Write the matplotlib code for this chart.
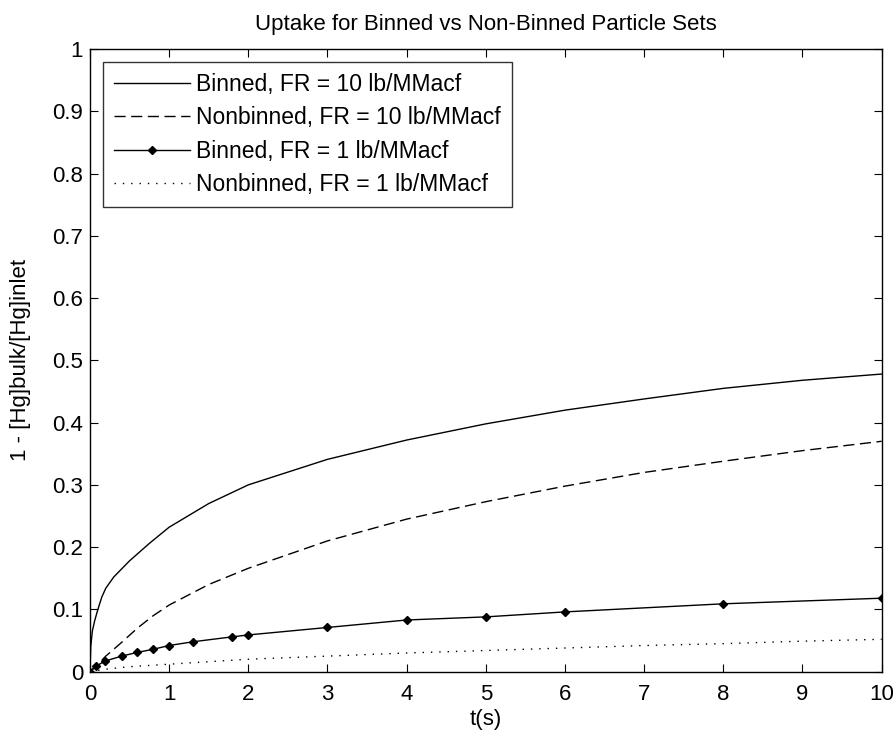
import matplotlib
matplotlib.use("Agg")
import matplotlib.pyplot as plt

plt.rcParams["font.family"] = ["Liberation Sans", "DejaVu Sans"]

# Binned, FR = 10 lb/MMacf
t_b10 = [0, 0.01, 0.03, 0.06, 0.1, 0.15, 0.2, 0.3, 0.4, 0.5, 0.75, 1.0, 1.5, 2.0, 3, 4, 5, 6, 7, 8, 9, 10]
y_b10 = [0, 0.04, 0.065, 0.082, 0.1, 0.12, 0.134, 0.152, 0.165, 0.178, 0.206, 0.232, 0.27, 0.30, 0.341, 0.372, 0.398, 0.42, 0.438, 0.455, 0.468, 0.478]

# Nonbinned, FR = 10 lb/MMacf
t_n10 = [0, 0.1, 0.2, 0.4, 0.6, 0.8, 1.0, 1.5, 2, 3, 4, 5, 6, 7, 8, 9, 10]
y_n10 = [0, 0.012, 0.025, 0.047, 0.07, 0.09, 0.107, 0.14, 0.166, 0.21, 0.245, 0.273, 0.298, 0.32, 0.338, 0.355, 0.37]

# Binned, FR = 1 lb/MMacf
t_b1 = [0, 0.08, 0.19, 0.4, 0.6, 0.8, 1.0, 1.3, 1.8, 2.0, 3, 4, 5, 6, 8, 10]
y_b1 = [0, 0.009, 0.017, 0.025, 0.031, 0.036, 0.042, 0.048, 0.056, 0.059, 0.071, 0.083, 0.088, 0.096, 0.109, 0.118]

# Nonbinned, FR = 1 lb/MMacf
t_n1 = [0, 0.2, 0.5, 1, 2, 3, 4, 5, 6, 7, 8, 9, 10]
y_n1 = [0, 0.004, 0.008, 0.012, 0.02, 0.025, 0.03, 0.034, 0.038, 0.042, 0.045, 0.049, 0.052]

labels = ["Binned, FR = 10 lb/MMacf", "Nonbinned, FR = 10 lb/MMacf",
          "Binned, FR = 1 lb/MMacf", "Nonbinned, FR = 1 lb/MMacf"]

fig = plt.figure(figsize=(8.96, 7.36), dpi=100)
ax = fig.add_axes([0.1004, 0.0874, 0.8836, 0.846])

ax.plot(t_b10, y_b10, color="black", lw=1.0, label=labels[0])
ax.plot(t_n10, y_n10, color="black", lw=1.0, dashes=(8, 4), label=labels[1])
ax.plot(t_b1, y_b1, color="black", lw=1.0, marker="D", markersize=4.5, label=labels[2])
ax.plot(t_n1, y_n1, color="black", lw=1.0, dashes=(1, 5), label=labels[3])

ax.set_xlim(0, 10)
ax.set_ylim(0, 1)
ax.set_xticks(range(0, 11))
ax.set_yticks([i / 10 for i in range(11)])
ax.set_yticklabels(["0"] + ["0.%d" % i for i in range(1, 10)] + ["1"])
ax.tick_params(direction="in", top=True, right=True, labelsize=16, length=6)
ax.tick_params(axis="x", pad=9)
ax.tick_params(axis="y", pad=5)
for s in ax.spines.values():
    s.set_linewidth(1.0)

ax.set_xlabel("t(s)", fontsize=16, labelpad=3)
ax.set_ylabel("1 - [Hg]bulk/[Hg]inlet", fontsize=16, labelpad=15)
ax.set_title("Uptake for Binned vs Non-Binned Particle Sets", fontsize=16, pad=14)

leg = ax.legend(loc="upper left", fontsize=16.5, frameon=True, fancybox=False,
                edgecolor="black", handlelength=3.3, handletextpad=0.27,
                borderaxespad=0.55, labelspacing=0.45, borderpad=0.5)
leg.get_frame().set_linewidth(1.0)

fig.savefig("out.png", dpi=100)
